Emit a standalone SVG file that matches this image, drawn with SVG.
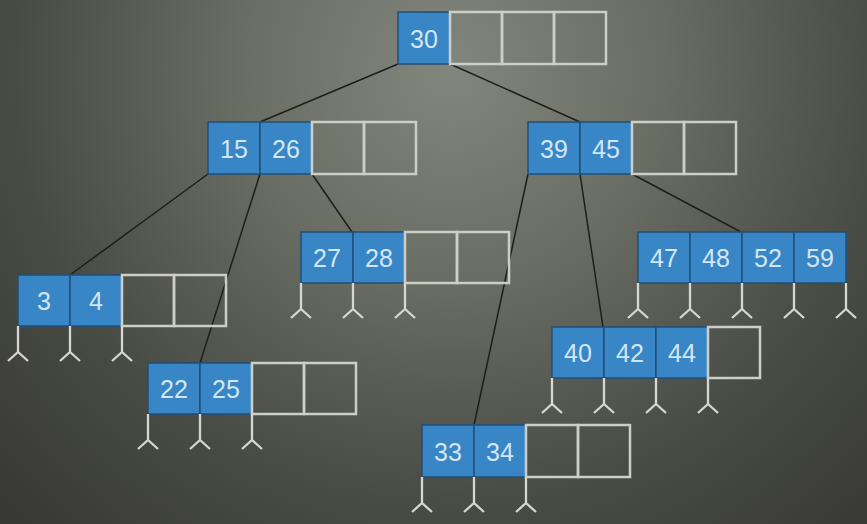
<svg xmlns="http://www.w3.org/2000/svg" width="867" height="524" viewBox="0 0 867 524">
<defs>
<radialGradient id="bg" cx="450" cy="70" r="620" gradientUnits="userSpaceOnUse">
<stop offset="0" stop-color="#82867c"/>
<stop offset="0.35" stop-color="#686c63"/>
<stop offset="0.7" stop-color="#494b45"/>
<stop offset="1" stop-color="#383934"/>
</radialGradient>
<path id="ptr" d="M0 0 V26 M-10 35 L0 26 L10 35" fill="none"/>
</defs>
<style>
.k{fill:#3886c6;stroke:#1f4f78;stroke-width:1.5}
.e{fill:none;stroke:#cdcec8;stroke-width:2.5}
.t{font-family:"Liberation Sans",Arial,sans-serif;font-size:25px;fill:#d3e6f6;text-anchor:middle;dominant-baseline:central}
.p{stroke:#d6d7d2;stroke-width:2.3;fill:none}
.c{stroke:#1e1f1c;stroke-width:1.5;fill:none}
</style>
<rect width="867" height="524" fill="url(#bg)"/>
<g id="connectors" class="c">
<line x1="398" y1="64" x2="260" y2="122"/>
<line x1="450" y1="64" x2="580" y2="122"/>
<line x1="208" y1="174" x2="70" y2="275"/>
<line x1="260" y1="174" x2="200" y2="363"/>
<line x1="312" y1="174" x2="352" y2="232"/>
<line x1="528" y1="174" x2="474" y2="425"/>
<line x1="580" y1="174" x2="603" y2="327"/>
<line x1="632" y1="174" x2="741" y2="232"/>
</g>
<g id="n30">
<rect class="k" x="398" y="12" width="52" height="52"/>
<rect class="e" x="450" y="12" width="52" height="52"/>
<rect class="e" x="502" y="12" width="52" height="52"/>
<rect class="e" x="554" y="12" width="52" height="52"/>
<text class="t" x="424" y="39">30</text>
</g>
<g id="n15_26">
<rect class="k" x="208" y="122" width="52" height="52"/>
<rect class="k" x="260" y="122" width="52" height="52"/>
<rect class="e" x="312" y="122" width="52" height="52"/>
<rect class="e" x="364" y="122" width="52" height="52"/>
<text class="t" x="234" y="149">15</text>
<text class="t" x="286" y="149">26</text>
</g>
<g id="n39_45">
<rect class="k" x="528" y="122" width="52" height="52"/>
<rect class="k" x="580" y="122" width="52" height="52"/>
<rect class="e" x="632" y="122" width="52" height="52"/>
<rect class="e" x="684" y="122" width="52" height="52"/>
<text class="t" x="554" y="149">39</text>
<text class="t" x="606" y="149">45</text>
</g>
<g id="n3_4">
<rect class="k" x="18" y="275" width="52" height="51"/>
<rect class="k" x="70" y="275" width="52" height="51"/>
<rect class="e" x="122" y="275" width="52" height="51"/>
<rect class="e" x="174" y="275" width="52" height="51"/>
<text class="t" x="44" y="301">3</text>
<text class="t" x="96" y="301">4</text>
<g class="p"><use href="#ptr" x="18" y="326"/><use href="#ptr" x="70" y="326"/><use href="#ptr" x="122" y="326"/></g>
</g>
<g id="n22_25">
<rect class="k" x="148" y="363" width="52" height="51"/>
<rect class="k" x="200" y="363" width="52" height="51"/>
<rect class="e" x="252" y="363" width="52" height="51"/>
<rect class="e" x="304" y="363" width="52" height="51"/>
<text class="t" x="174" y="389">22</text>
<text class="t" x="226" y="389">25</text>
<g class="p"><use href="#ptr" x="148" y="414"/><use href="#ptr" x="200" y="414"/><use href="#ptr" x="252" y="414"/></g>
</g>
<g id="n27_28">
<rect class="k" x="301" y="232" width="52" height="51"/>
<rect class="k" x="353" y="232" width="52" height="51"/>
<rect class="e" x="405" y="232" width="52" height="51"/>
<rect class="e" x="457" y="232" width="52" height="51"/>
<text class="t" x="327" y="258">27</text>
<text class="t" x="379" y="258">28</text>
<g class="p"><use href="#ptr" x="301" y="283"/><use href="#ptr" x="353" y="283"/><use href="#ptr" x="405" y="283"/></g>
</g>
<g id="n47_59">
<rect class="k" x="638" y="232" width="52" height="51"/>
<rect class="k" x="690" y="232" width="52" height="51"/>
<rect class="k" x="742" y="232" width="52" height="51"/>
<rect class="k" x="794" y="232" width="52" height="51"/>
<text class="t" x="664" y="258">47</text>
<text class="t" x="716" y="258">48</text>
<text class="t" x="768" y="258">52</text>
<text class="t" x="820" y="258">59</text>
<g class="p"><use href="#ptr" x="638" y="283"/><use href="#ptr" x="690" y="283"/><use href="#ptr" x="742" y="283"/><use href="#ptr" x="794" y="283"/><use href="#ptr" x="846" y="283"/></g>
</g>
<g id="n40_44">
<rect class="k" x="552" y="327" width="52" height="51"/>
<rect class="k" x="604" y="327" width="52" height="51"/>
<rect class="k" x="656" y="327" width="52" height="51"/>
<rect class="e" x="708" y="327" width="52" height="51"/>
<text class="t" x="578" y="353">40</text>
<text class="t" x="630" y="353">42</text>
<text class="t" x="682" y="353">44</text>
<g class="p"><use href="#ptr" x="552" y="378"/><use href="#ptr" x="604" y="378"/><use href="#ptr" x="656" y="378"/><use href="#ptr" x="708" y="378"/></g>
</g>
<g id="n33_34">
<rect class="k" x="422" y="425" width="52" height="52"/>
<rect class="k" x="474" y="425" width="52" height="52"/>
<rect class="e" x="526" y="425" width="52" height="52"/>
<rect class="e" x="578" y="425" width="52" height="52"/>
<text class="t" x="448" y="452">33</text>
<text class="t" x="500" y="452">34</text>
<g class="p"><use href="#ptr" x="422" y="477"/><use href="#ptr" x="474" y="477"/><use href="#ptr" x="526" y="477"/></g>
</g>
</svg>
